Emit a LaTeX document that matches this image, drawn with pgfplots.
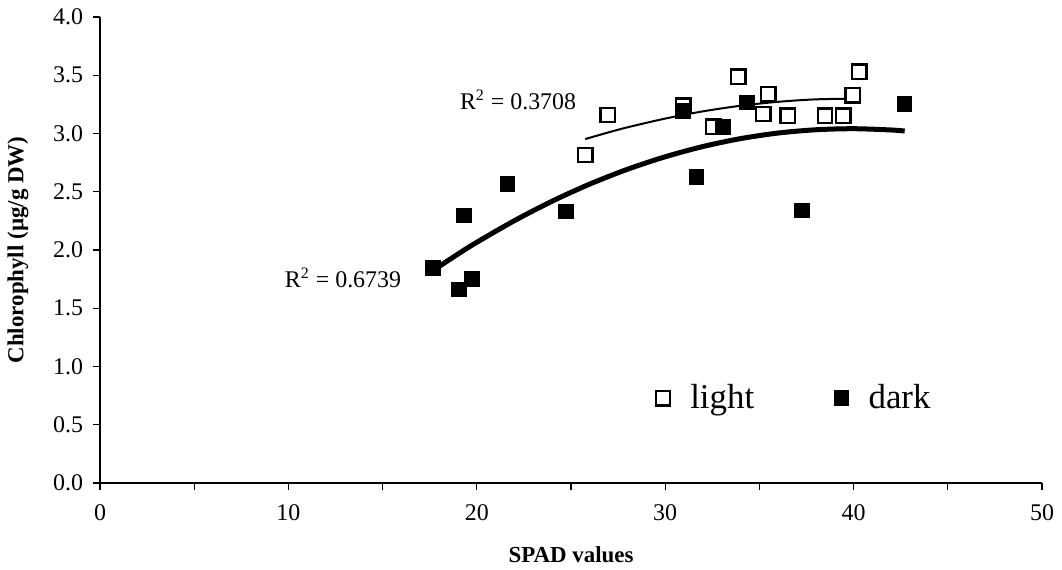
\documentclass[border=0pt]{standalone}
\usepackage{fontspec}
\setmainfont{Liberation Serif}
\usepackage{pgfplots}
\pgfplotsset{compat=1.18}
\begin{document}
\begin{tikzpicture}
\begin{axis}[
  name=ax,
  scale only axis, width=471bp, height=233bp,
  xmin=0, xmax=50, ymin=0, ymax=4,
  axis lines=left,
  axis line style={-, line width=0.6bp},
  tick align=outside,
  major tick length=3.5bp, minor tick length=3.5bp,
  tick style={black, line width=0.6bp},
  xtick={0,10,20,30,40,50},
  minor xtick={5,15,25,35,45},
  ytick={0,0.5,1,1.5,2,2.5,3,3.5,4},
  /pgf/number format/assume math mode=true,
  tick label style={font=\fontsize{12}{14}\selectfont},
  yticklabel style={xshift=-1.5bp, /pgf/number format/.cd, fixed, fixed zerofill, precision=1},
  xticklabel style={yshift=-4bp},
  xlabel={\textbf{SPAD values}},
  ylabel={\textbf{Chlorophyll (µg/g DW)}},
  label style={font=\fontsize{11.5}{13}\selectfont},
  xlabel style={at={(axis description cs:0.5,0)}, anchor=center, yshift=-36bp},
  ylabel style={at={(axis description cs:-0.087,0.5)}, anchor=center},
  legend style={draw=none, fill=none, at={(axis description cs:0.738,0.182)}, anchor=center,
    font=\fontsize{17.5}{20}\selectfont, legend columns=2,
    /tikz/every even column/.append style={column sep=38bp}},
  legend cell align=left,
]
\addplot[only marks, mark=square*, mark size=3.6bp, mark options={draw=black, fill=white, line width=1.2bp}]
coordinates {
(25.75,2.815) (26.95,3.158) (30.96,3.238) (32.55,3.058) (33.88,3.486) (35.47,3.338)
(35.21,3.167) (36.50,3.152) (38.48,3.152) (39.45,3.152) (39.95,3.329) (40.30,3.529)
};
\addlegendentry{\hspace{8bp}light}
\addplot[only marks, mark=square*, mark size=3.6bp, mark options={draw=black, fill=black, line width=0.6bp}]
coordinates {
(17.69,1.844) (19.07,1.662) (19.73,1.753) (19.32,2.296) (21.62,2.567) (24.72,2.330)
(30.96,3.195) (33.08,3.058) (34.33,3.266) (31.67,2.624) (37.25,2.338) (42.71,3.252)
};
\addlegendentry{\hspace{8bp}dark}
\addplot[forget plot, smooth, black, line width=1bp] coordinates {
(25.75,2.952) (27,3.010) (28,3.053) (30,3.128) (32,3.190) (34,3.238) (36,3.272) (38,3.293) (40.30,3.300)
};
\addplot[forget plot, smooth, black, line width=2.5bp] coordinates {
(17.69,1.826) (19,1.965) (20,2.066) (22,2.252) (24,2.419) (26,2.566) (28,2.693) (30,2.800)
(32,2.888) (34,2.956) (36,3.004) (38,3.032) (40,3.041) (42,3.030) (42.71,3.021)
};
\node[font=\fontsize{12}{14}\selectfont, anchor=center] at (axis cs:22.19,3.288) {R\textsuperscript{2} = 0.3708};
\node[font=\fontsize{12}{14}\selectfont, anchor=center] at (axis cs:12.9,1.76) {R\textsuperscript{2} = 0.6739};
\end{axis}
\pgfresetboundingbox
\path ([shift={(-50bp,-43.5bp)}]ax.south west) rectangle ([shift={(10bp,8.5bp)}]ax.north east);
\end{tikzpicture}
\end{document}
